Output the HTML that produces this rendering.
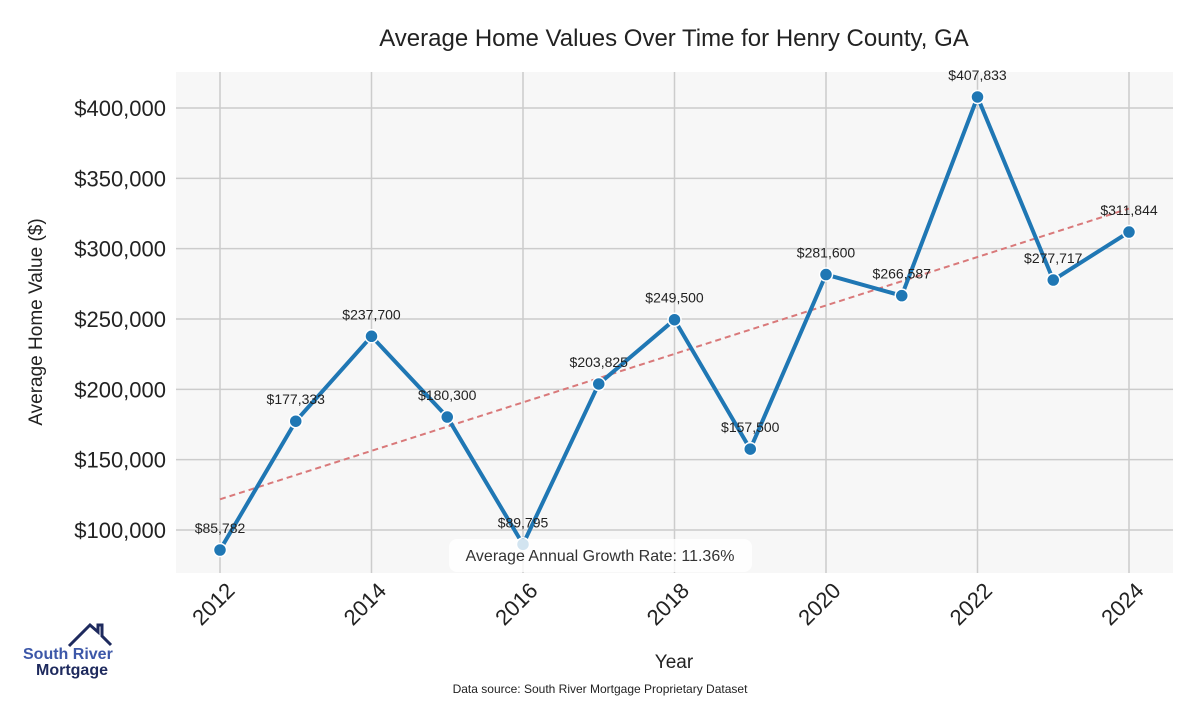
<!DOCTYPE html>
<html><head><meta charset="utf-8"><style>
body{margin:0;background:#fff;width:1200px;height:700px;overflow:hidden;font-family:"Liberation Sans",sans-serif}
</style></head><body>
<svg id="chart" width="1200" height="700" xmlns="http://www.w3.org/2000/svg"></svg>
<script>
const years=[2012,2013,2014,2015,2016,2017,2018,2019,2020,2021,2022,2023,2024];
const values=[85782,177333,237700,180300,89795,203825,249500,157500,281600,266587,407833,277717,311844];
const yTicks=[100000,150000,200000,250000,300000,350000,400000];
const xTicks=[2012,2014,2016,2018,2020,2022,2024];
const growthLabel="Average Annual Growth Rate: 11.36%";
const NS="http://www.w3.org/2000/svg";
const svg=document.getElementById('chart');
function el(t,a,p){const e=document.createElementNS(NS,t);for(const k in a)e.setAttribute(k,a[k]);(p||svg).appendChild(e);return e;}
const X=y=>220+(y-2012)*(1129-220)/12;
const Y=v=>530-(v-100000)*(530-108)/300000;
const fmt=v=>'$'+v.toLocaleString('en-US');
let r=el('rect',{x:176,y:72,width:997,height:501,fill:'#f7f7f7'});

yTicks.forEach(t=>{
 let l=el('line',{x1:176,x2:1173,y1:Y(t),y2:Y(t),stroke:'#cccccc','stroke-width':1.5});
 
 let tx=el('text',{x:166,y:Y(t)+8,'text-anchor':'end','font-size':22,fill:'#222'});tx.textContent=fmt(t);
 
});
xTicks.forEach(t=>{
 let l=el('line',{x1:X(t),x2:X(t),y1:72,y2:573,stroke:'#cccccc','stroke-width':1.5});
 
 let tx=el('text',{x:0,y:0,'text-anchor':'end','font-size':22,fill:'#222',transform:`translate(${X(t)+16},${592}) rotate(-45)`});tx.textContent=t;
 
});
const n=years.length,mx=years.reduce((a,b)=>a+b)/n,my=values.reduce((a,b)=>a+b)/n;
let sxy=0,sxx=0;years.forEach((y,i)=>{sxy+=(y-mx)*(values[i]-my);sxx+=(y-mx)*(y-mx);});
const slope=sxy/sxx,icp=my-slope*mx;
let tl=el('line',{x1:X(2012),y1:Y(icp+slope*2012),x2:X(2024),y2:Y(icp+slope*2024),stroke:'#d9797a','stroke-width':2,'stroke-dasharray':'6,4'});

let p=el('polyline',{points:years.map((y,i)=>X(y)+','+Y(values[i])).join(' '),fill:'none',stroke:'#1f77b4','stroke-width':4,'stroke-linejoin':'round'});

years.forEach((y,i)=>{
 let c=el('circle',{cx:X(y),cy:Y(values[i]),r:6.5,fill:'#1f77b4',stroke:'#fff','stroke-width':1.5});
 
 let t=el('text',{x:X(y),y:Y(values[i])-17,'text-anchor':'middle','font-size':14,fill:'#222'});t.textContent=fmt(values[i]);
 
});
let b=el('rect',{x:449,y:539,width:303,height:33,rx:8,fill:'#ffffff','fill-opacity':0.8});

let gt=el('text',{x:600,y:561,'text-anchor':'middle','font-size':16,fill:'#333'});gt.textContent=growthLabel;

let ti=el('text',{x:674,y:46,'text-anchor':'middle','font-size':24,fill:'#222'});ti.textContent='Average Home Values Over Time for Henry County, GA';

let yt=el('text',{x:0,y:0,'text-anchor':'middle','font-size':19,fill:'#222',transform:'translate(42,322) rotate(-90)'});yt.textContent='Average Home Value ($)';

let xt=el('text',{x:674,y:668,'text-anchor':'middle','font-size':19,fill:'#222'});xt.textContent='Year';

let ds=el('text',{x:600,y:693,'text-anchor':'middle','font-size':12,fill:'#222'});ds.textContent='Data source: South River Mortgage Proprietary Dataset';

let g=el('g',{});
el('polyline',{points:'69,646 90,625 98,632 98,625 102,625 102,636 111,645',fill:'none',stroke:'#1e2a5e','stroke-width':3},g);
let l1=el('text',{x:23,y:659,'font-size':16,'font-weight':'bold',fill:'#3c57a8'},g);l1.textContent='South River';
let l2=el('text',{x:36,y:675,'font-size':16,'font-weight':'bold',fill:'#1e2a5e'},g);l2.textContent='Mortgage';
</script>
</body></html>
